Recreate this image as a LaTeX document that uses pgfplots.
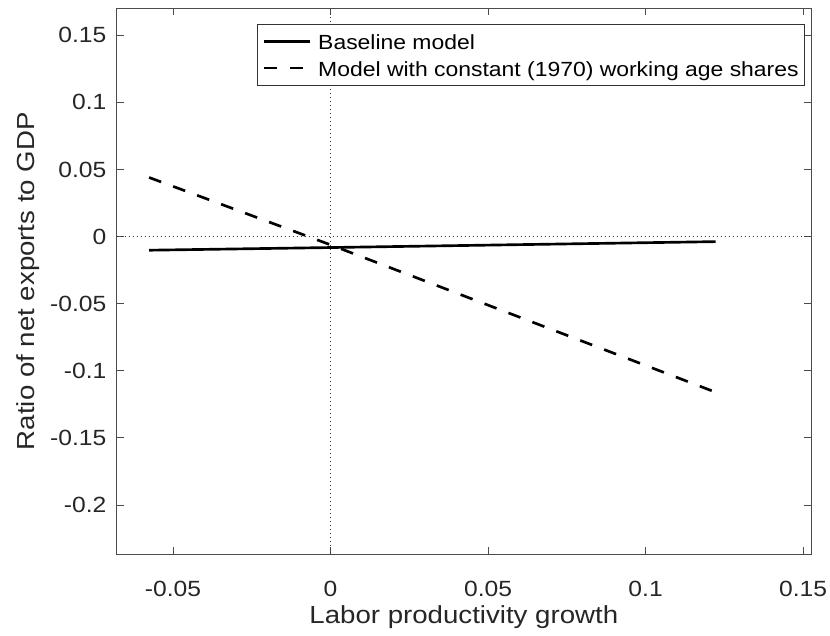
\documentclass[border=0pt]{standalone}
\usepackage{fontspec}
\setmainfont{Liberation Sans}[FakeStretch=1.12]
\usepackage{pgfplots}
\pgfplotsset{compat=1.18}
\begin{document}
\begin{tikzpicture}
\path[use as bounding box] (-87.5pt,-60.75pt) rectangle (534.95pt,415.5pt);
\begin{axis}[
 at={(0,0)}, anchor=south west,
 scale only axis, width=520.7pt, height=409.3pt,
 xmin=-0.0679, xmax=0.1525, ymin=-0.2366, ymax=0.1701,
 xtick={-0.05,0,0.05,0.1,0.15}, xticklabels={-0.05,0,0.05,0.1,0.15},
 ytick={-0.2,-0.15,-0.1,-0.05,0,0.05,0.1,0.15},
 yticklabels={-0.2,-0.15,-0.1,-0.05,0,0.05,0.1,0.15},
 tick align=inside, major tick length=5.3pt,
 axis line style={black!70, line width=0.6pt},
 every tick/.style={black!70, line width=0.6pt},
 ticklabel style={font=\fontsize{16.5}{18}\selectfont, text=black!85, inner sep=0pt},
 xticklabel style={anchor=base, yshift=-32pt},
 yticklabel style={anchor=east, xshift=-7.5pt},
 xlabel={Labor productivity growth},
 ylabel={Ratio of net exports to GDP},
 label style={font=\fontsize{18.5}{20}\selectfont, text=black!85, inner sep=0pt},
 xlabel style={at={(axis description cs:0.5,-0.127)}, anchor=base},
 ylabel style={at={(axis description cs:-0.1177,0.5)}, anchor=base},
 legend style={at={(0.9913,0.9712)}, anchor=north east, draw=black!80, line width=0.5pt,
   fill=white, font=\fontsize{15.35}{17}\selectfont, inner xsep=4.5pt, inner ysep=4pt,
   row sep=1.8pt, column sep=5pt,
   nodes={inner sep=0pt, text height=15pt, text depth=3pt}},
 legend cell align=left,
 legend image code/.code={\draw[#1] (0pt,0pt) -- (34.5pt,0pt);},
]
\addplot[black!80, line width=0.6pt, dash pattern=on 0.6pt off 2.4pt, forget plot]
  coordinates {(-0.0679,0) (0.1525,0)};
\addplot[black!80, line width=0.6pt, dash pattern=on 0.6pt off 2.4pt, forget plot]
  coordinates {(0,-0.2366) (0,0.1701)};
\addplot[black, line width=2pt] coordinates {(-0.0576,-0.0102) (0,-0.0082) (0.1222,-0.0038)};
\addlegendentry{Baseline model}
\addplot[black, line width=2pt, dash pattern=on 9.6pt off 9.6pt]
  coordinates {(-0.0576,0.0440) (0,-0.0062) (0.1222,-0.1160)};
\addlegendentry{Model with constant (1970) working age shares}
\end{axis}
\end{tikzpicture}
\end{document}
